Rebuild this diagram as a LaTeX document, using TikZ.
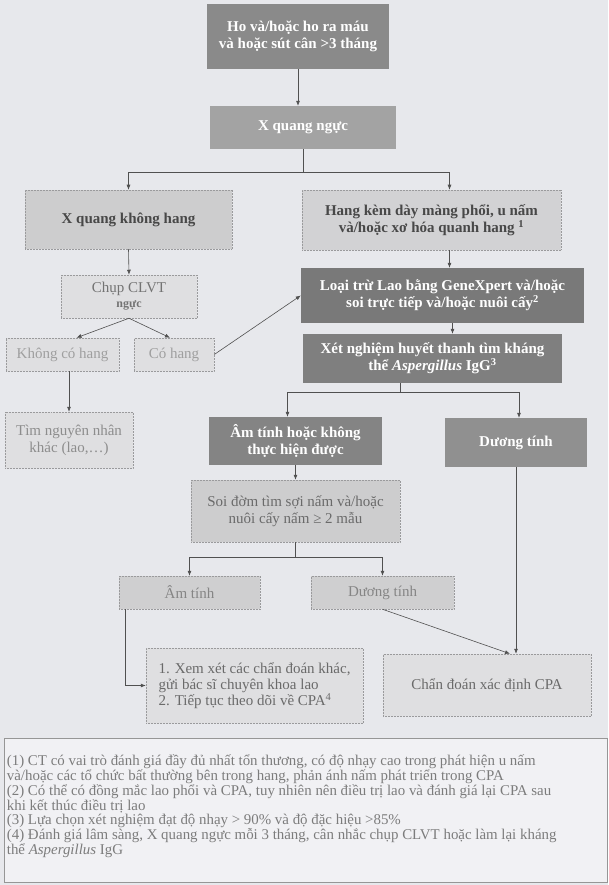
\documentclass[tikz,border=0pt]{standalone}
\usepackage{fontspec}
\setmainfont{Liberation Serif}
\usetikzlibrary{arrows.meta}
\definecolor{paper}{HTML}{E7E8EC}
\definecolor{ink}{HTML}{505050}
\definecolor{dotline}{HTML}{9A9A9C}
\definecolor{shadeA}{HTML}{848484}
\definecolor{shadeB}{HTML}{A3A3A3}
\definecolor{shadeC}{HTML}{CDCDCE}
\definecolor{shadeD}{HTML}{DFDFE1}

\begin{document}
\begin{tikzpicture}[x=1pt,y=-1pt,font=\fontsize{15}{17}\selectfont,>={Latex[length=5pt,width=4pt]}]
\tikzset{box/.style={inner sep=0pt,align=center},
  darkbox/.style={box,fill=shadeA,text=white,font=\fontsize{15}{17}\selectfont\bfseries},
  midbox/.style={box,fill=shadeC,draw=dotline,densely dotted,line width=0.5pt,text=ink!85!black},
  palebox/.style={box,fill=shadeD,draw=dotline,densely dotted,line width=0.5pt,text=ink!70},
  arr/.style={->,draw=ink,line width=0.6pt},
  link/.style={draw=ink,line width=0.6pt}}
\fill[paper] (0,0) rectangle (608,885);
\useasboundingbox (0,0) rectangle (608,885);
% upper part
\node[darkbox,fill=shadeA!95!white,minimum width=182,minimum height=65] (cough) at (298,36.5) {Ho và/hoặc ho ra máu\\và hoặc sút cân >3 tháng};
\node[darkbox,fill=shadeB,minimum width=186,minimum height=43] (xray) at (303,127.5) {X quang ngực};
\node[midbox,font=\fontsize{15}{17}\selectfont\bfseries,text=ink!90!black,minimum width=207,minimum height=59] (nocav) at (128.5,219.5) {X quang không hang};
\node[midbox,fill=shadeC!70!shadeD,font=\fontsize{15}{17.5}\selectfont\bfseries,text=ink!90!black,minimum width=259,minimum height=60] (cav) at (431.5,220) {Hang kèm dày màng phổi, u nấm\\và/hoặc xơ hóa quanh hang \textsuperscript{1}};
\coordinate (split1) at (303,172);
\draw[link] (xray.south) -- (split1);
\draw[arr] (cough.south) -- (cough.south |- xray.north);
\draw[arr] (split1) -| (nocav.north);
\draw[arr] (split1) -| ([xshift=18]cav.north);
% left branch
\node[palebox,text=ink!80,minimum width=136,minimum height=43] (ct) at (129,296.5) {Chụp CLVT\\[-2pt]{\fontsize{12}{12}\selectfont\bfseries ngực}};
\node[palebox,text=ink!55,minimum width=113,minimum height=33] (nohole) at (62.5,354.5) {Không có hang};
\node[palebox,text=ink!55,minimum width=80,minimum height=33] (hole) at (174,354.5) {Có hang};
\node[palebox,text=ink!65,minimum width=128,minimum height=56] (other) at (69,440) {Tìm nguyên nhân\\khác (lao,…)};
\draw[arr] (nocav.south) -- (ct.north);
\draw[arr] (ct.south) -- ([xshift=14]nohole.north);
\draw[arr] (ct.south) -- ([xshift=-4]hole.north);
\draw[arr] (other.north |- nohole.south) -- (other.north);
% right branch
\node[darkbox,fill=shadeA!92!black,minimum width=283,minimum height=55] (tb) at (442.5,295.5) {Loại trừ Lao bằng GeneXpert và/hoặc\\soi trực tiếp và/hoặc nuôi cấy\textsuperscript{2}};
\node[darkbox,fill=shadeA!96!black,minimum width=259,minimum height=49] (igg) at (432.5,358.5) {Xét nghiệm huyết thanh tìm kháng\\thể \textit{Aspergillus} IgG\textsuperscript{3}};
\draw[arr] (hole.east) -- (tb.west);
\draw[arr] ([xshift=18]cav.south) -- ([xshift=18]cav.south |- tb.north);
\draw[arr] ([xshift=10]tb.south) -- ([xshift=10]tb.south |- igg.north);
\node[darkbox,minimum width=173,minimum height=48] (neg) at (295.5,441) {Âm tính hoặc không\\thực hiện được};
\node[darkbox,fill=shadeA!90!white,minimum width=142,minimum height=49] (pos) at (516,442.5) {Dương tính};
\coordinate (split2) at (400,392);
\draw[link] (igg.south -| split2) -- (split2);
\draw[arr] (split2) -| ([xshift=-8]neg.north);
\draw[arr] (split2) -| ([xshift=3]pos.north);
% sputum
\node[midbox,text=ink!85,minimum width=209,minimum height=62] (sputum) at (295.5,511) {Soi đờm tìm sợi nấm và/hoặc\\nuôi cấy nấm ≥ 2 mẫu};
\draw[arr] (neg.south) -- (sputum.north);
\node[midbox,fill=shadeC!95!white,text=ink!70,minimum width=141,minimum height=33] (neg2) at (189.5,592.5) {Âm tính};
\node[midbox,fill=shadeC!95!white,text=ink!70,minimum width=143,minimum height=33] (pos2) at (382.5,592.5) {Dương tính};
\coordinate (split3) at (295.5,557);
\draw[link] (sputum.south) -- (split3);
\draw[arr] (split3) -| (neg2.north);
\draw[arr] (split3) -| (pos2.north);
% outcomes
\node[palebox,text=ink!85,align=left,font=\fontsize{15}{16}\selectfont,minimum width=217,minimum height=75,inner xsep=10pt] (follow) at (254.5,685.5) {1. Xem xét các chẩn đoán khác,\\gửi bác sĩ chuyên khoa lao\\2. Tiếp tục theo dõi về CPA\textsuperscript{4}};
\node[palebox,text=ink!85,minimum width=208,minimum height=62] (cpa) at (487,685) {Chẩn đoán xác định CPA};
\draw[arr] ([xshift=7]neg2.south west) |- (follow.west);
\draw[arr] (pos2.south) -- ([xshift=23]cpa.north);
\draw[arr] (pos.south) -- (pos.south |- cpa.north);
% notes
\node[fill=paper!60!white,draw=ink!60,line width=0.6pt,minimum width=603,minimum height=144] (notes) at (305.5,810) {};
\node[anchor=west,align=left,inner sep=0pt,text=ink!75,font=\fontsize{14.9}{13.7}\selectfont] (notetext) at ([xshift=3,yshift=4]notes.west) {(1) CT có vai trò đánh giá đầy đủ nhất tổn thương, có độ nhạy cao trong phát hiện u nấm\\
và/hoặc các tổ chức bất thường bên trong hang, phản ánh nấm phát triển trong CPA\\
(2) Có thể có đồng mắc lao phổi và CPA, tuy nhiên nên điều trị lao và đánh giá lại CPA sau\\
khi kết thúc điều trị lao\\
(3) Lựa chọn xét nghiệm đạt độ nhạy > 90\% và độ đặc hiệu >85\%\\
(4) Đánh giá lâm sàng, X quang ngực mỗi 3 tháng, cân nhắc chụp CLVT hoặc làm lại kháng\\
thể \textit{Aspergillus} IgG};
\end{tikzpicture}
\end{document}
